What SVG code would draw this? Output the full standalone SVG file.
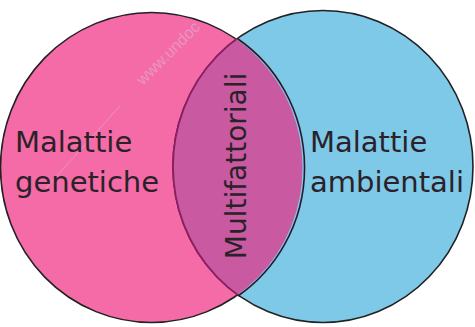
<svg xmlns="http://www.w3.org/2000/svg" width="475" height="327" viewBox="0 0 475 327">
<style>
.lbl{font-family:"DejaVu Sans","Liberation Sans",sans-serif;font-size:29px;fill:#2a2228}
.wm{font-family:"Liberation Sans",sans-serif;font-size:16px;fill:#cfe0f4;opacity:0.35}
</style>
<defs>
<clipPath id="clipL"><ellipse cx="151.5" cy="167.5" rx="151" ry="155"/></clipPath>
</defs>
<rect width="475" height="327" fill="#ffffff"/>
<g id="genetiche">
<ellipse cx="151.5" cy="167.5" rx="151" ry="155" fill="#F56BA7" stroke="#222" stroke-width="1.6"/>
</g>
<g id="ambientali">
<ellipse cx="323" cy="166.5" rx="150" ry="156" fill="#7EC8E8" stroke="#222" stroke-width="1.6"/>
</g>
<g id="multifattoriali">
<g clip-path="url(#clipL)">
<ellipse cx="323" cy="166.5" rx="150" ry="156" fill="#C95AA2" stroke="#8E1F62" stroke-width="1.8"/>
</g>
<path d="M238,39 A151,155 0 0 1 238,296" fill="none" stroke="#2a1a28" stroke-width="1.6"/>
</g>
<g id="watermark">
<text class="wm" transform="translate(143,86) rotate(-45)">www.undoc</text>
<line x1="120" y1="106" x2="46" y2="188" stroke="#cfe0f4" stroke-width="1" opacity="0.35"/>
</g>
<g id="labels">
<text class="lbl" x="15" y="152">Malattie</text>
<text class="lbl" x="15" y="192">genetiche</text>
<text class="lbl" x="310" y="152">Malattie</text>
<text class="lbl" x="310" y="192">ambientali</text>
<text class="lbl" style="font-size:28px" text-anchor="middle" transform="translate(246,166) rotate(-90)">Multifattoriali</text>
</g>
</svg>
